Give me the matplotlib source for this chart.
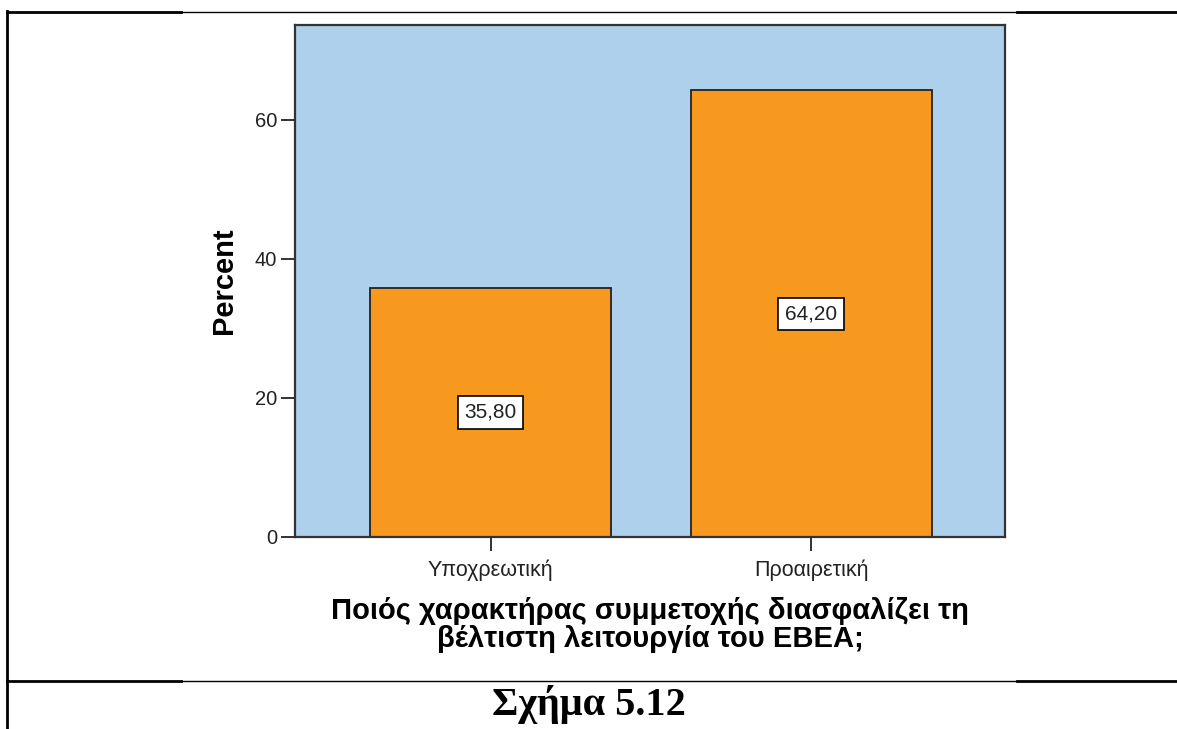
import matplotlib
matplotlib.use('Agg')
import matplotlib.pyplot as plt
from matplotlib.lines import Line2D

plt.rcParams['font.family'] = ['Liberation Sans', 'DejaVu Sans']

categories = ['Υποχρεωτική', 'Προαιρετική']
percent = [35.80, 64.20]
value_labels = ['35,80', '64,20']
y_ticks = [0, 20, 40, 60]
x_title = 'Ποιός χαρακτήρας συμμετοχής διασφαλίζει τη\nβέλτιστη λειτουργία του ΕΒΕΑ;'
caption = 'Σχήμα 5.12'

fig = plt.figure(figsize=(11.77, 7.29), dpi=100)
ax = fig.add_axes([0.2506, 0.2634, 0.6033, 0.7023])
ax.set_facecolor('#afd0ec')

pos = range(len(categories))
ax.bar(pos, percent, width=0.752, color='#f7991f', edgecolor='#222222', linewidth=1.3)

# value labels in white boxes at mid height
for x, v, lab in zip(pos, percent, value_labels):
    ax.text(x, v / 2, lab, ha='center', va='center', fontsize=15, color='#222222',
            bbox=dict(boxstyle='square,pad=0.32', facecolor='white', edgecolor='black', linewidth=1.2))

ax.set_xlim(-0.61, 1.605)
ax.set_ylim(0, 73.6)
ax.set_xticks(list(pos))
ax.set_xticklabels(categories, fontsize=15.5)
ax.set_yticks(y_ticks)
ax.tick_params(axis='both', length=10, width=1.3, labelsize=14.5, colors='#222222', pad=3)
ax.tick_params(axis='x', labelsize=15.5, pad=6)
for s in ax.spines.values():
    s.set_color('#333333')
    s.set_linewidth(1.6)

ax.set_ylabel('Percent', fontsize=21, fontweight='bold', labelpad=12)
ax.set_xlabel(x_title, fontsize=21, fontweight='bold', labelpad=12, linespacing=1.0)

# caption
fig.text(0.5, 0.034, caption, ha='center', va='center', fontsize=29, fontweight='bold',
         family='Liberation Serif')

# table border lines around the figure
W, H = 1177.0, 729.0
def hline(y, x0, x1, lw):
    fig.add_artist(Line2D([x0 / W, x1 / W], [1 - y / H, 1 - y / H], color='black', linewidth=lw))

for y in (12, 681):
    hline(y, 7, 181, 2.0)
    hline(y, 181, 1017, 1.0)
    hline(y, 1017, 1177, 2.0)
fig.add_artist(Line2D([7 / W, 7 / W], [1 - 11 / H, 0], color='black', linewidth=2.0))

fig.savefig('out.png', dpi=100)
